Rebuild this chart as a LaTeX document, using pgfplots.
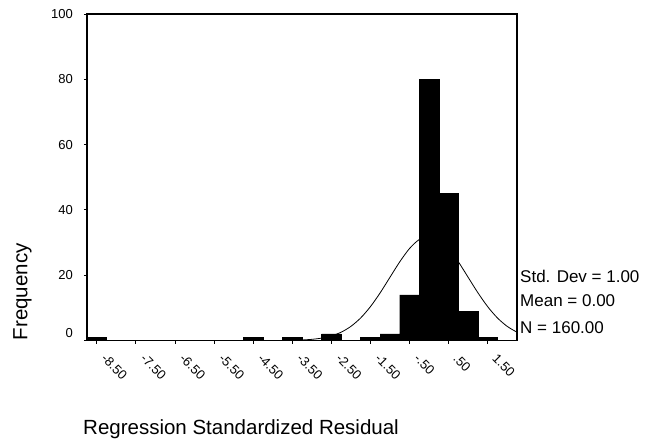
\documentclass[border=0pt]{standalone}
\usepackage{fontspec}
\setmainfont{Liberation Sans}
\usepackage{pgfplots}
\pgfplotsset{compat=1.18}
\begin{document}
\begin{tikzpicture}
\useasboundingbox (0,0) rectangle (645pt,445pt);
\begin{axis}[
  at={(87pt,104.5pt)}, anchor=south west,
  width=430pt, height=326.5pt, scale only axis,
  xmin=-8.75, xmax=2.25, ymin=0, ymax=100,
  axis line style={line width=1.3pt},
  tick style={black, line width=0.9pt},
  major tick length=3pt,
  tick align=outside,
  xtick pos=bottom, ytick pos=left,
  xtick={-8.5,-7.5,-6.5,-5.5,-4.5,-3.5,-2.5,-1.5,-0.5,0.5,1.5},
  xticklabels={-8.50,-7.50,-6.50,-5.50,-4.50,-3.50,-2.50,-1.50,-.50,.50,1.50},
  ytick={20,40,60,80,100},
  yticklabels={20,40,60,80,100},
  extra y ticks={0},
  extra y tick labels={0},
  extra y tick style={yticklabel style={yshift=7pt}},
  ticklabel style={font=\fontsize{13}{15}\selectfont},
  xticklabel style={xshift=7pt, yshift=-13pt, rotate=-45, anchor=west, inner sep=0pt},
  yticklabel style={anchor=east, inner sep=0pt, xshift=-11pt},
  ylabel={Frequency},
  ylabel style={at={(axis description cs:-0.15,0)}, anchor=west, inner sep=0pt, font=\fontsize{20.5}{24}\selectfont},
  xlabel={Regression Standardized Residual},
  xlabel style={at={(axis description cs:-0.0093,-0.2894)}, anchor=base west, inner sep=0pt, font=\fontsize{20.5}{24}\selectfont},
  clip=false,
]
\addplot[black, line width=0.8pt, smooth] coordinates {
(-3.5,0.070) (-3.25,0.162) (-3.0,0.355) (-2.75,0.727) (-2.5,1.402) (-2.25,2.539)
(-2.0,4.319) (-1.75,6.902) (-1.5,10.361) (-1.25,14.612) (-1.0,19.357) (-0.75,24.091)
(-0.5,28.165) (-0.25,30.933) (0,31.915) (0.25,30.933) (0.5,28.165) (0.75,24.091)
(1.0,19.357) (1.25,14.612) (1.5,10.361) (1.75,6.902) (2.0,4.319) (2.25,2.539)
};
\addplot[ybar, bar width=0.5, bar shift=0pt, fill=black, draw=black] coordinates {
(-8.5,1) (-4.5,1) (-3.5,1) (-2.5,2) (-1.5,1) (-1.0,2) (-0.5,14) (0,80) (0.5,45) (1.0,9) (1.5,1)
};
\node[anchor=base west, inner sep=0pt, font=\fontsize{17}{20}\selectfont] at (axis description cs:1.007,0.179) {Std. Dev = 1.00};
\node[anchor=base west, inner sep=0pt, font=\fontsize{17}{20}\selectfont] at (axis description cs:1.007,0.103) {Mean = 0.00};
\node[anchor=base west, inner sep=0pt, font=\fontsize{17}{20}\selectfont] at (axis description cs:1.007,0.020) {N = 160.00};
\end{axis}
\end{tikzpicture}
\end{document}
